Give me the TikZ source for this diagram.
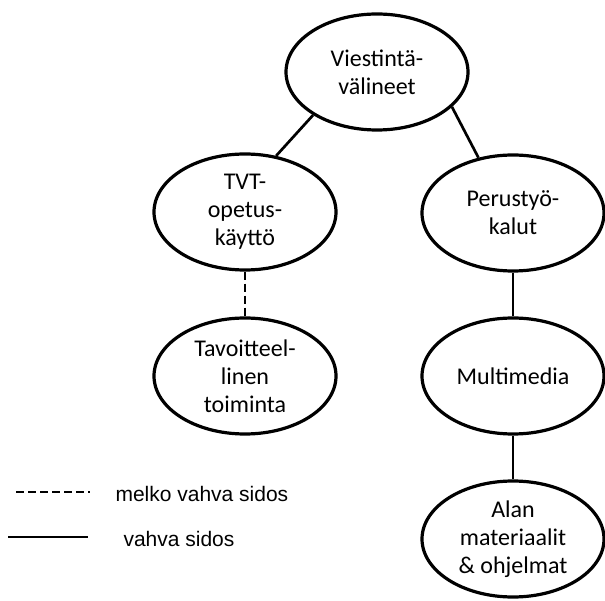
\documentclass[tikz,border=0pt]{standalone}
\usepackage{fontspec}
\setmainfont{Carlito}
\newfontfamily\legendfont{Liberation Sans}
\usetikzlibrary{shapes.geometric}
\begin{document}
\begin{tikzpicture}[x=1pt,y=-1pt,
  bubble/.style={ellipse, draw, line width=3.2pt, minimum width=182pt,
    minimum height=116pt, inner sep=0pt, align=center,
    font=\fontsize{24}{28}\selectfont},
  link/.style={line width=2.7pt},
  weaklink/.style={link, dash pattern=on 8pt off 4pt},
  legendtext/.style={anchor=west, font=\legendfont\fontsize{21}{25}\selectfont}]
\useasboundingbox (0,0) rectangle (605,601);

% concept bubbles
\node[bubble] (v)   at (377,72)  {Viestintä-\\välineet};
\node[bubble] (tvt) at (245,212) {TVT-\\opetus-\\käyttö};
\node[bubble] (tav) at (245,376) {Tavoitteel-\\linen\\toiminta};
\node[bubble] (per) at (513,213) {Perustyö-\\kalut};
\node[bubble] (mul) at (513,376) {Multimedia};
\node[bubble] (ala) at (513,539) {Alan\\materiaalit\\\& ohjelmat};

% links between bubbles
\draw[link] (v.214) -- (tvt.61);
\draw[link] (v.335) -- (per.122);
\draw[weaklink] (tvt) -- (tav);
\draw[link] (per) -- (mul);
\draw[link] (mul) -- (ala);

% legend
\coordinate (d1) at (16,492);
\coordinate (d2) at (90,492);
\coordinate (s1) at (8,537);
\coordinate (s2) at (88,537);
\draw[weaklink] (d1) -- (d2);
\draw[link] (s1) -- (s2);
\node[legendtext] (dl) at (112,494) {melko vahva sidos};
\node[legendtext] (sl) at (120,539) {vahva sidos};
\end{tikzpicture}
\end{document}
